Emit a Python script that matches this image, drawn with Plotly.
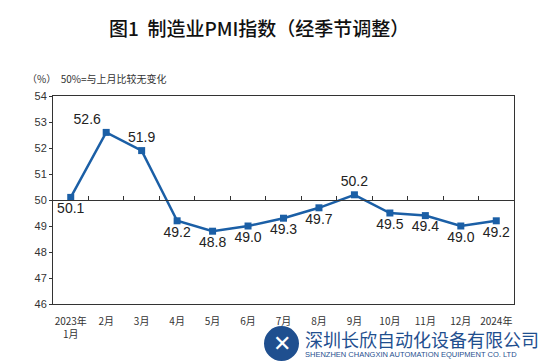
import plotly.graph_objects as go

months = ["2023年<br>1月", "2月", "3月", "4月", "5月", "6月", "7月", "8月", "9月",
          "10月", "11月", "12月", "2024年<br>1月"]
pmi = [50.1, 52.6, 51.9, 49.2, 48.8, 49.0, 49.3, 49.7, 50.2, 49.5, 49.4, 49.0, 49.2]
label_pos = ["bottom center", "top left", "top center", "bottom center", "bottom center",
             "bottom center", "bottom center", "bottom center", "top center",
             "bottom center", "bottom center", "bottom center", "bottom center"]
y_ticks = [46, 47, 48, 49, 50, 51, 52, 53, 54]

BLUE = "#1b5fa6"
CJK = "Noto Sans CJK SC"

# page has an 8px body margin, so the figure is drawn 8px smaller and offset
OFF = 8
W, H = 548 - OFF, 362 - OFF
L, R, T, B = 53 - OFF, 548 - 514, 96 - OFF, 362 - 304


def px(xp):
    return (xp - OFF - L) / (W - L - R)


def py(yp):
    return (H - B - (yp - OFF)) / (H - T - B)


fig = go.Figure()
fig.add_trace(go.Scatter(
    x=months, y=pmi, mode="lines+markers+text",
    text=[f"{v:.1f}" for v in pmi], textposition=label_pos,
    textfont=dict(family="Liberation Sans", size=14, color="#222"),
    line=dict(color=BLUE, width=2.5),
    marker=dict(symbol="square", size=7, color=BLUE),
    cliponaxis=False, showlegend=False,
))
# invisible trace to activate the crossing axis at 50
fig.add_trace(go.Scatter(x=months, y=pmi, xaxis="x2", mode="none",
                         showlegend=False, hoverinfo="skip"))

fig.update_layout(
    width=W, height=H,
    margin=dict(l=L, r=R, t=T, b=B),
    paper_bgcolor="white", plot_bgcolor="white",
    xaxis=dict(type="category", range=[-0.5, 12.5], showline=True, linecolor="#333",
               linewidth=1, mirror=True, ticks="outside", ticklen=8,
               tickcolor="rgba(0,0,0,0)", showgrid=False,
               tickfont=dict(family=CJK, size=10, color="#333"), tickangle=0),
    xaxis2=dict(type="category", range=[-0.5, 12.5], overlaying="x", anchor="free",
                position=0.5, side="bottom", showline=True, linecolor="#333",
                linewidth=1, ticks="inside", ticklen=4, tickcolor="#333",
                tickson="boundaries", showticklabels=False, showgrid=False),
    yaxis=dict(range=[46, 54], tickvals=y_ticks, showline=True, linecolor="#333",
               linewidth=1, mirror=True, ticks="outside", ticklen=3, tickcolor="#333",
               showgrid=False, zeroline=False,
               tickfont=dict(family="Liberation Sans Narrow, Liberation Sans", size=11, color="#333")),
    font=dict(family=CJK),
)

fig.add_annotation(text="图1  制造业PMI指数（经季节调整）", x=px(259), y=py(27),
                   xref="paper", yref="paper", xanchor="center", yanchor="middle",
                   showarrow=False,
                   font=dict(family=CJK, size=19, color="#111", weight=500))
fig.add_annotation(text="（%）  50%=与上月比较无变化", x=px(25), y=py(78),
                   xref="paper", yref="paper", showarrow=False,
                   xanchor="left", yanchor="middle",
                   font=dict(family=CJK, size=10, color="#333"))

# watermark
fig.add_shape(type="rect", xref="paper", yref="paper", x0=px(262), x1=px(548),
              y0=py(362), y1=py(328), fillcolor="white", line=dict(width=0), layer="above")
fig.add_shape(type="circle", xref="paper", yref="paper", x0=px(264), x1=px(299),
              y0=py(361), y1=py(326), fillcolor="#1f4f8f", line=dict(width=0), layer="above")
fig.add_annotation(text="✕", x=px(281.5), y=py(343), xref="paper", yref="paper", showarrow=False,
                   xanchor="center", yanchor="middle",
                   font=dict(family="DejaVu Sans", size=22, color="white"))
fig.add_annotation(text="深圳长欣自动化设备有限公司", x=px(303), y=py(339), xref="paper", yref="paper",
                   xanchor="left", yanchor="middle", showarrow=False,
                   font=dict(family=CJK, size=18, color="#1f4f8f"))
fig.add_annotation(text="SHENZHEN CHANGXIN AUTOMATION EQUIPMENT CO. LTD", x=px(303), y=py(354),
                   xref="paper", yref="paper", xanchor="left", yanchor="middle", showarrow=False,
                   font=dict(family="Liberation Sans Narrow, Liberation Sans", size=7.5, color="#1f4f8f"))

fig.write_html("out.html")
